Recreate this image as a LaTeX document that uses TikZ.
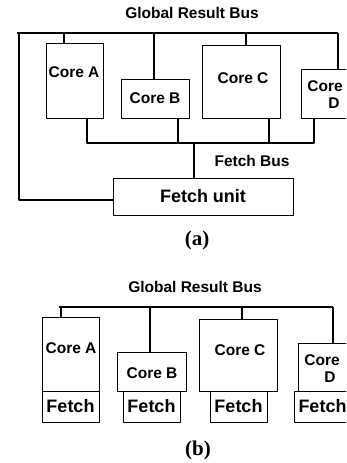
\documentclass[tikz,border=0pt]{standalone}
\usepackage{fontspec}
\setmainfont{Liberation Serif}
\setsansfont{Liberation Sans}
\usetikzlibrary{positioning}
\begin{document}
\begin{tikzpicture}[x=1pt,y=-1pt,line join=round,
		font=\sffamily\bfseries\fontsize{15.5}{17}\selectfont,
		box/.style={draw,line width=0.9pt,inner sep=0pt,outer sep=0pt},
		bus/.style={line width=1.6pt},
		tap/.style={line width=1.2pt},
		big/.style={font=\sffamily\bfseries\fontsize{18}{20}\selectfont},
		captxt/.style={font=\rmfamily\bfseries\fontsize{21}{23}\selectfont}]
	\clip (0,0) rectangle (346,463);
	% (a) shared fetch unit
	\node (titleA) at (192,13) {Global Result Bus};
	\coordinate (gL) at (17,33);
	\coordinate (gR) at (338,33);
	\draw[bus] (gL)--(gR);
	\node[box,minimum width=57,minimum height=75] (coreA) at (74.5,80.5) {};
	\node[box,minimum width=68,minimum height=39] (coreB) at (155,98.5) {Core B};
	\node[box,minimum width=78,minimum height=73] (coreC) at (241,81.5) {};
	\node[box,minimum width=59,minimum height=49] (coreD) at (330.5,93.5) {};
	\node[box,big,minimum width=180,minimum height=37] (fetch) at (203,196.5) {Fetch unit};
	\path
	(74,72) node (txtA) {Core A}
	(243,78) node (txtC) {Core C}
	(325,86) node (txtD1) {Core}
	(334,103) node (txtD2) {D}
	(252,161) node (fbus) {Fetch Bus}
	(197,240) node[captxt] (capA) {(a)}
	;
	\coordinate (tA) at (64,33);
	\coordinate (tB) at (154,33);
	\coordinate (tC) at (246,33);
	\draw[tap] (tA)--(tA |- coreA.north);
	\draw[tap] (tB)--(tB |- coreB.north);
	\draw[tap] (tC)--(tC |- coreC.north);
	\draw[tap] (gR)--(gR |- coreD.north);
	\coordinate (fL) at (87,143);
	\coordinate (fB) at (178,143);
	\coordinate (fM) at (194,143);
	\coordinate (fC) at (269,143);
	\coordinate (fR) at (314,143);
	\draw[bus] (fL |- coreA.south)--(fL)--(fR)--(fR |- coreD.south);
	\draw[tap] (fB)--(fB |- coreB.south);
	\draw[tap] (fC)--(fC |- coreC.south);
	\draw[tap] (fM)--(fM |- fetch.north);
	\coordinate (lc) at (19,200);
	\draw[bus] (fetch.west |- lc)--(lc)--(lc |- gL);
	% (b) one fetch unit per core
	\node (titleB) at (195,287) {Global Result Bus};
	\coordinate (hL) at (59,307);
	\coordinate (hR) at (333,307);
	\draw[bus] (hL)--(hR);
	\node[box,minimum width=57,minimum height=74] (coreA2) at (70.5,354) {};
	\node[box,minimum width=69,minimum height=39] (coreB2) at (151.5,371.5) {};
	\node[box,minimum width=78,minimum height=72] (coreC2) at (238,355) {};
	\node[box,minimum width=59,minimum height=48] (coreD2) at (327.5,367) {};
	\foreach \n/\x in {A/70.5,B/151.5,C/238.5,D/322.5}
		\node[box,big,minimum width=57,minimum height=31] (fetch\n) at (\x,406.5) {Fetch};
	\path
	(71,348) node (txtA2) {Core A}
	(152,373) node (txtB2) {Core B}
	(240,350) node (txtC2) {Core C}
	(322,360) node (txtD3) {Core}
	(330,377) node (txtD4) {D}
	(198,450) node[captxt] (capB) {(b)}
	;
	\coordinate (uA) at (61,307);
	\coordinate (uB) at (150,307);
	\coordinate (uC) at (242,307);
	\draw[tap] (uA)--(uA |- coreA2.north);
	\draw[tap] (uB)--(uB |- coreB2.north);
	\draw[tap] (uC)--(uC |- coreC2.north);
	\draw[tap] (hR)--(hR |- coreD2.north);
\end{tikzpicture}
\end{document}
